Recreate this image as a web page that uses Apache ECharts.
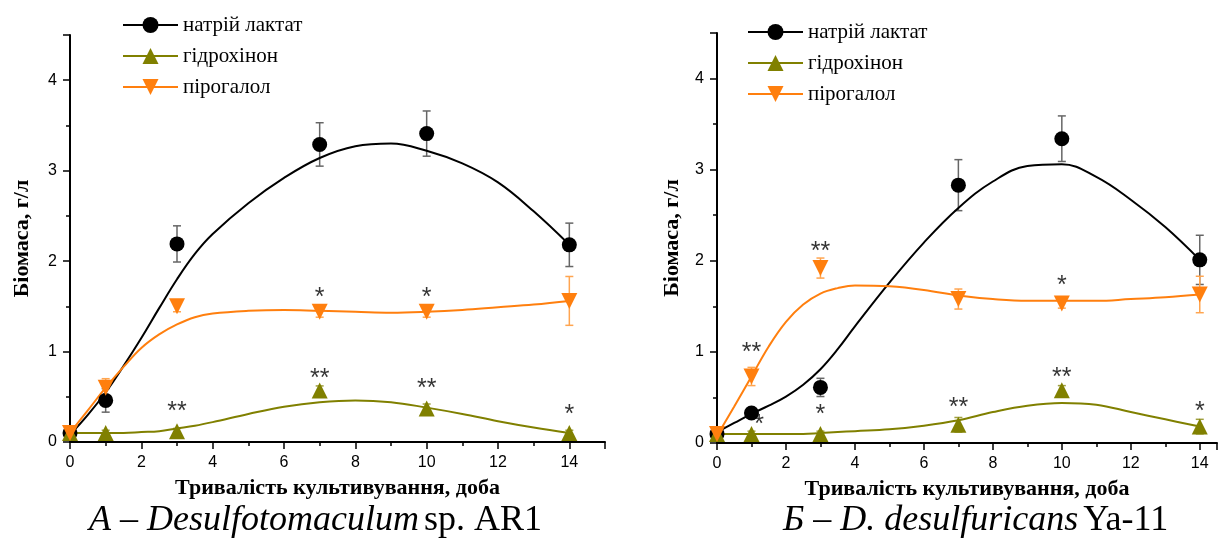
<!DOCTYPE html>
<html>
<head>
<meta charset="utf-8">
<script src="https://cdn.jsdelivr.net/npm/echarts@6/dist/echarts.min.js"></script>
<style>
  html, body { margin: 0; padding: 0; background: #fff; }
  #chart { width: 1227px; height: 547px; }
</style>
</head>
<body>
<div id="chart"></div>
<script>
// measured days
var days = [0, 1, 3, 7, 10, 14];
var names = ['натрій лактат', 'гідрохінон', 'пірогалол'];
var colors = ['#000000', '#808000', '#ff7f0e'];
var errColors = ['#666666', '#a0a040', '#ffa550'];

// panel A (Desulfotomaculum sp. AR1)
var lactA = [0.10, 0.46, 2.19, 3.29, 3.41, 2.18];
var lactErrA = [0.02, 0.13, 0.20, 0.24, 0.25, 0.24];
var hydrA = [0.10, 0.10, 0.12, 0.57, 0.37, 0.10];
var hydrErrA = [0.02, 0.03, 0.03, 0.05, 0.05, 0.03];
var pyroA = [0.10, 0.60, 1.50, 1.44, 1.44, 1.56];
var pyroErrA = [0.02, 0.10, 0.06, 0.06, 0.06, 0.27];

// panel Б (D. desulfuricans Ya-11)
var lactB = [0.10, 0.33, 0.61, 2.83, 3.34, 2.01];
var lactErrB = [0.02, 0.04, 0.10, 0.28, 0.25, 0.27];
var hydrB = [0.10, 0.10, 0.10, 0.20, 0.58, 0.18];
var hydrErrB = [0.02, 0.03, 0.03, 0.08, 0.05, 0.08];
var pyroB = [0.10, 0.73, 1.92, 1.58, 1.53, 1.63];
var pyroErrB = [0.02, 0.10, 0.11, 0.11, 0.05, 0.20];

// fitted curves
var fitDays = [0, 0.5, 1, 1.5, 2, 2.5, 3, 3.5, 4, 5, 6, 7, 8, 9, 10, 11, 12, 13, 14];
var lactFitA = [0.08, 0.30, 0.55, 0.84, 1.15, 1.48, 1.80, 2.08, 2.30, 2.64, 2.92, 3.14, 3.27, 3.30, 3.22, 3.08, 2.87, 2.55, 2.18];
var hydrFitA = [0.10, 0.10, 0.10, 0.10, 0.11, 0.12, 0.15, 0.18, 0.22, 0.31, 0.39, 0.44, 0.46, 0.44, 0.38, 0.31, 0.23, 0.16, 0.10];
var pyroFitA = [0.10, 0.35, 0.60, 0.83, 1.04, 1.19, 1.30, 1.38, 1.42, 1.45, 1.46, 1.45, 1.44, 1.43, 1.44, 1.46, 1.49, 1.52, 1.56];
var lactFitB = [0.12, 0.22, 0.32, 0.41, 0.51, 0.64, 0.81, 1.03, 1.28, 1.76, 2.20, 2.58, 2.87, 3.04, 3.06, 2.92, 2.67, 2.37, 2.01];
var hydrFitB = [0.10, 0.10, 0.10, 0.10, 0.10, 0.10, 0.11, 0.12, 0.13, 0.15, 0.19, 0.25, 0.34, 0.41, 0.44, 0.42, 0.34, 0.26, 0.18];
var pyroFitB = [0.08, 0.40, 0.73, 1.06, 1.33, 1.52, 1.64, 1.70, 1.73, 1.72, 1.68, 1.62, 1.58, 1.56, 1.56, 1.56, 1.58, 1.60, 1.63];

// significance marks [day, level, text]
var starsA = [[3, 0.40, '**'], [7, 0.76, '**'], [10, 0.65, '**'], [14, 0.36, '*'], [7, 1.66, '*'], [10, 1.66, '*']];
var starsB = [[1, 1.05, '**'], [3, 2.16, '**'], [10, 1.79, '*'], [1.22, 0.26, '*'], [3, 0.37, '*'], [7, 0.45, '**'], [10, 0.78, '**'], [14, 0.40, '*']];

var symbols = ['circle', 'triangle', 'path://M0,0 L10,0 L5,9 Z'];
var symbolSizes = [15, 16, 16];

function pairs(xs, ys) {
  return xs.map(function (x, i) { return [x, ys[i]]; });
}

function errSeries(idx, vals, errs, color) {
  return {
    type: 'custom',
    xAxisIndex: idx, yAxisIndex: idx,
    silent: true,
    z: 1,
    data: days.map(function (d, i) { return [d, vals[i], errs[i]]; }),
    renderItem: function (params, api) {
      var x = api.value(0), y = api.value(1), e = api.value(2);
      var top = api.coord([x, y + e]);
      var bot = api.coord([x, y - e]);
      var hw = 4;
      var st = { stroke: color, lineWidth: 1.5 };
      return {
        type: 'group',
        children: [
          { type: 'line', shape: { x1: top[0], y1: top[1], x2: bot[0], y2: bot[1] }, style: st },
          { type: 'line', shape: { x1: top[0] - hw, y1: top[1], x2: top[0] + hw, y2: top[1] }, style: st },
          { type: 'line', shape: { x1: bot[0] - hw, y1: bot[1], x2: bot[0] + hw, y2: bot[1] }, style: st }
        ]
      };
    }
  };
}

function panelSeries(idx, vals, errs, fits, stars) {
  var out = [];
  for (var k = 0; k < 3; k++) {
    // fitted curve
    out.push({
      type: 'line',
      name: 'fit' + idx + k,
      xAxisIndex: idx, yAxisIndex: idx,
      data: pairs(fitDays, fits[k]),
      smooth: 0.4,
      showSymbol: false,
      silent: true,
      z: 2,
      lineStyle: { color: colors[k], width: 2 }
    });
    out.push(errSeries(idx, vals[k], errs[k], errColors[k]));
    // measured points
    out.push({
      type: 'line',
      name: names[k],
      xAxisIndex: idx, yAxisIndex: idx,
      data: pairs(days, vals[k]),
      symbol: symbols[k],
      symbolSize: symbolSizes[k],
      showSymbol: true,
      z: 3,
      itemStyle: { color: colors[k] },
      lineStyle: { color: colors[k], width: 2, opacity: 0 }
    });
  }
  out.push({
    type: 'scatter',
    xAxisIndex: idx, yAxisIndex: idx,
    data: stars,
    symbolSize: 1,
    itemStyle: { color: 'rgba(0,0,0,0)' },
    silent: true,
    z: 4,
    label: {
      show: true,
      position: 'inside',
      offset: [0, 6],
      formatter: function (p) { return p.value[2]; },
      fontFamily: 'Liberation Sans',
      fontSize: 25,
      color: '#000'
    }
  });
  return out;
}

var axisFont = { fontFamily: 'Liberation Sans', fontSize: 16, color: '#000' };
var nameFont = { fontFamily: 'Liberation Serif', fontSize: 22, fontWeight: 'bold', color: '#000' };

function xAxis(idx, max) {
  return {
    type: 'value', gridIndex: idx, min: 0, max: max, interval: 2,
    name: 'Тривалість культивування, доба',
    nameLocation: 'middle', nameGap: 35, nameTextStyle: nameFont,
    axisLine: { onZero: false, lineStyle: { color: '#000', width: 2 } },
    axisTick: { length: 7, lineStyle: { color: '#000', width: 1.5 } },
    minorTick: { show: true, splitNumber: 2, length: 4, lineStyle: { color: '#000', width: 1.5 } },
    axisLabel: Object.assign({ margin: 13, showMaxLabel: false }, axisFont),
    splitLine: { show: false }
  };
}

function yAxis(idx, gap) {
  return {
    type: 'value', gridIndex: idx, min: 0, max: 4.5, interval: 1,
    name: 'Біомаса, г/л',
    nameLocation: 'middle', nameGap: gap, nameTextStyle: nameFont,
    axisLine: { show: true, onZero: false, lineStyle: { color: '#000', width: 2 } },
    axisTick: { show: true, length: 7, lineStyle: { color: '#000', width: 1.5 } },
    minorTick: { show: true, splitNumber: 2, length: 4, lineStyle: { color: '#000', width: 1.5 } },
    axisLabel: Object.assign({ margin: 13, showMaxLabel: false }, axisFont),
    splitLine: { show: false }
  };
}

function legend(left, top) {
  return {
    data: names, orient: 'vertical', left: left, top: top,
    itemWidth: 55, itemHeight: 20, itemGap: 9,
    selectedMode: false,
    lineStyle: { width: 2, opacity: 1 },
    textStyle: { fontFamily: 'Liberation Serif', fontSize: 21, color: '#000', lineHeight: 22 }
  };
}

var capRich = {
  i: { fontFamily: 'Liberation Serif', fontStyle: 'italic', fontWeight: 'normal', fontSize: 36, color: '#000' },
  n: { fontFamily: 'Liberation Serif', fontWeight: 'normal', fontSize: 36, color: '#000' }
};

var chart = echarts.init(document.getElementById('chart'));
chart.setOption({
  backgroundColor: '#fff',
  animation: false,
  title: [
    { text: '{i|А – Desulfotomaculum} {n|sp. AR1}', left: 84, top: 498, textStyle: { fontWeight: 'normal', rich: capRich } },
    { text: '{i|Б – D. desulfuricans} {n|Ya-11}', left: 778, top: 498, textStyle: { fontWeight: 'normal', rich: capRich } }
  ],
  legend: [legend(117, 9), legend(742, 16)],
  grid: [
    { left: 70, right: 622, top: 35, bottom: 105 },
    { left: 717, right: 10, top: 33, bottom: 104 }
  ],
  xAxis: [xAxis(0, 15), xAxis(1, 14.5)],
  yAxis: [yAxis(0, 37), yAxis(1, 34)],
  series: [].concat(
    panelSeries(0, [lactA, hydrA, pyroA], [lactErrA, hydrErrA, pyroErrA], [lactFitA, hydrFitA, pyroFitA], starsA),
    panelSeries(1, [lactB, hydrB, pyroB], [lactErrB, hydrErrB, pyroErrB], [lactFitB, hydrFitB, pyroFitB], starsB)
  )
});
</script>
</body>
</html>
